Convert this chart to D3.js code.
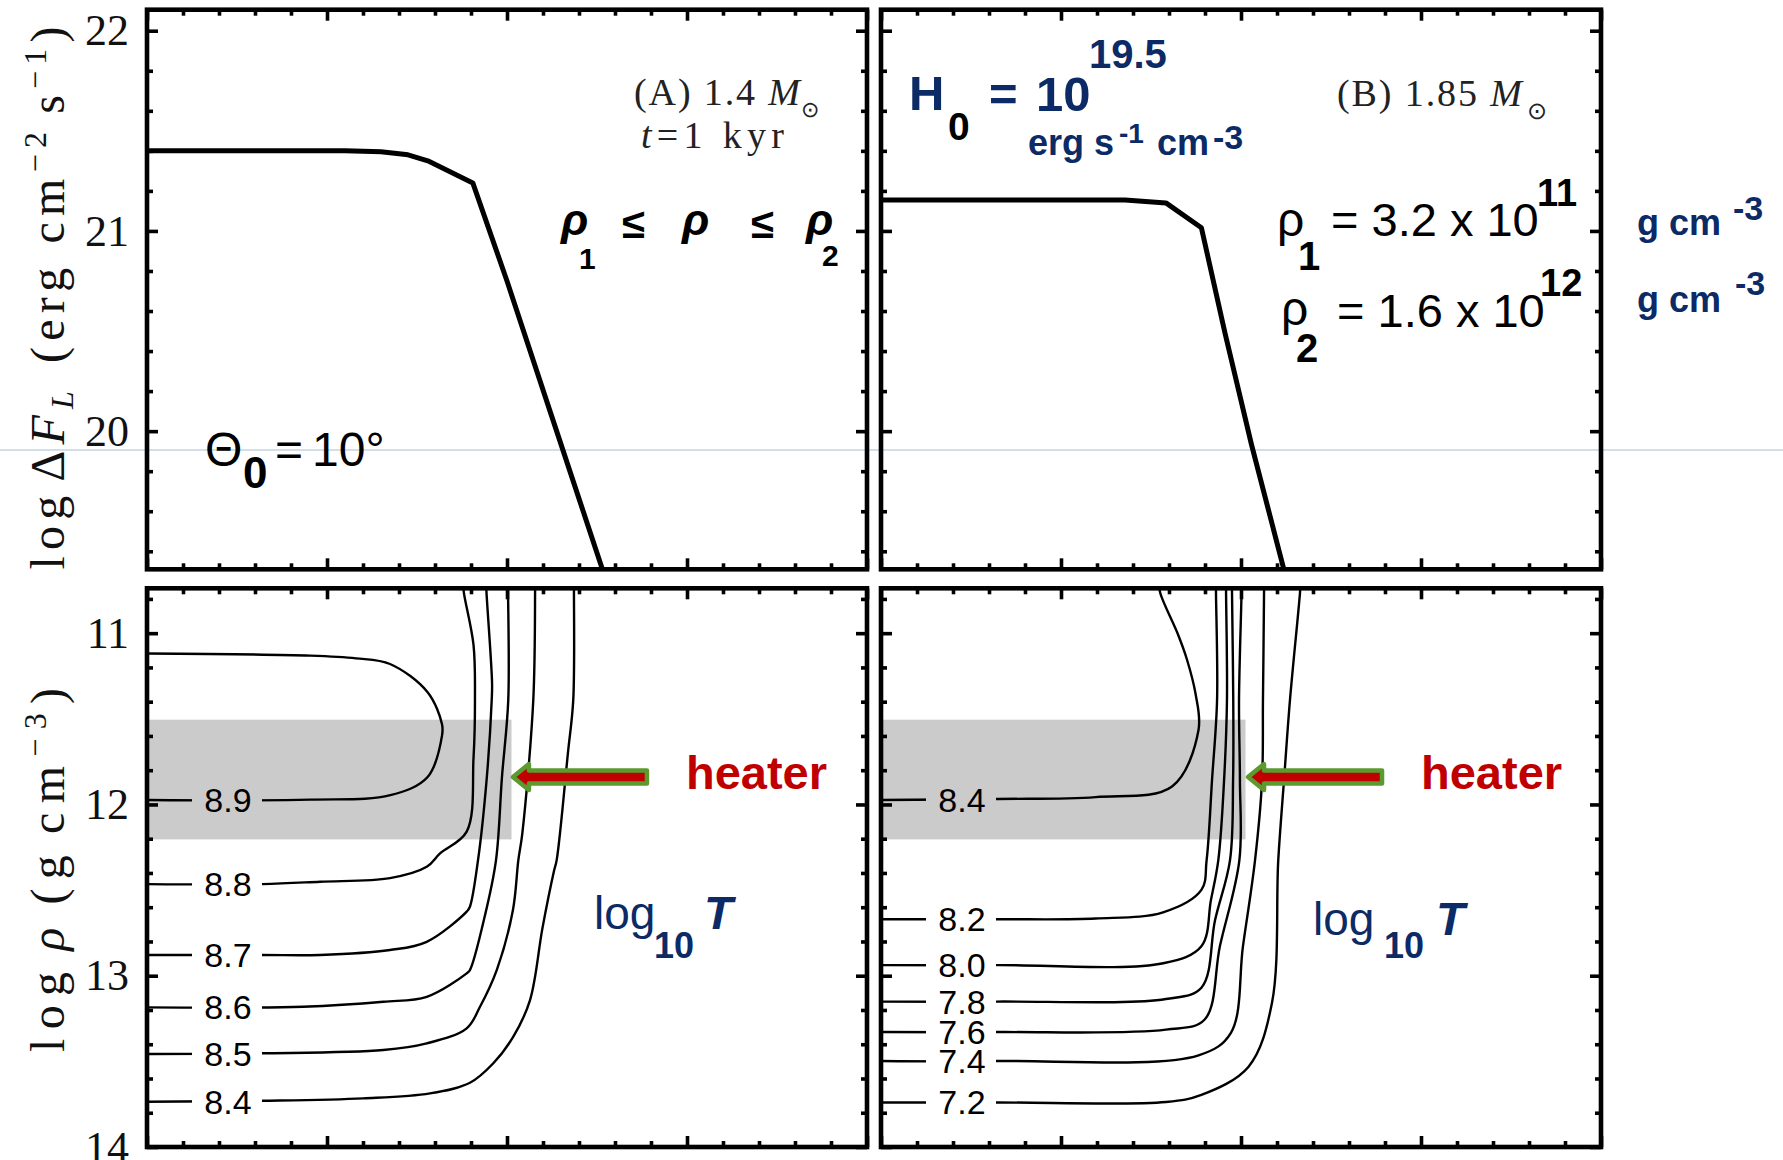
<!DOCTYPE html>
<html>
<head>
<meta charset="utf-8">
<script src="https://cdn.jsdelivr.net/npm/d3@7"></script>
<style>
  html, body { margin: 0; padding: 0; background: #fff; }
  svg { display: block; }
</style>
</head>
<body>
<svg id="fig" width="1783" height="1160"></svg>
<script>
// ---------------------------------------------------------------
// Data
// ---------------------------------------------------------------
// shared (unlabelled) horizontal coordinate, major ticks
const xTicksMajor = [0, 1, 2, 3, 4];
// tick labels of the two rows
const fluxTicks = [20, 21, 22];
const rhoTicks = [11, 12, 13, 14];

// log ΔF_L profiles, [x, log ΔF_L]
const fluxA = [[0, 21.40], [1.10, 21.40], [1.30, 21.395], [1.45, 21.38], [1.56, 21.35],
               [1.81, 21.24], [2.0, 20.75], [2.25, 20.07], [2.53, 19.31], [2.57, 19.20]];
const fluxB = [[0, 21.155], [1.356, 21.155], [1.583, 21.14], [1.78, 21.016], [1.911, 20.49],
               [2.058, 19.934], [2.238, 19.31], [2.27, 19.20]];

// log10 T contours, [x, log rho]; first point carries the label
const levelsA = ["8.9", "8.8", "8.7", "8.6", "8.5", "8.4"];
const contoursA = [
  [[0, 11.974], [0.906, 11.972], [1.352, 11.946], [1.559, 11.84], [1.639, 11.598], [1.639, 11.532],
   [1.559, 11.345], [1.35, 11.18], [1.161, 11.147], [0.906, 11.131], [0, 11.119]],
  [[0, 12.465], [0.639, 12.465], [0.961, 12.451], [1.35, 12.43], [1.554, 12.364], [1.628, 12.286],
   [1.776, 12.159], [1.814, 11.729], [1.822, 11.391], [1.814, 11.069], [1.76, 10.76], [1.756, 10.70]],
  [[0, 12.879], [0.639, 12.879], [0.961, 12.879], [1.35, 12.85], [1.554, 12.802], [1.776, 12.626],
   [1.794, 12.597], [1.839, 12.325], [1.888, 11.84], [1.915, 11.391], [1.917, 11.291], [1.886, 10.76], [1.884, 10.70]],
  [[0, 13.185], [0.867, 13.181], [1.313, 13.152], [1.554, 13.123], [1.776, 12.986], [1.794, 12.967],
   [1.878, 12.646], [1.939, 12.325], [1.972, 11.84], [2.007, 11.391], [2.006, 10.76], [2.006, 10.70]],
  [[0, 13.457], [0.639, 13.453], [1.313, 13.434], [1.554, 13.395], [1.776, 13.307], [1.85, 13.181],
   [1.943, 12.967], [2.033, 12.616], [2.063, 12.325], [2.085, 12.17], [2.146, 11.391], [2.156, 10.76], [2.156, 10.70]],
  [[0, 13.736], [0.639, 13.73], [1.202, 13.716], [1.572, 13.687], [1.794, 13.625], [1.924, 13.511],
   [2.035, 13.356], [2.128, 13.142], [2.197, 12.722], [2.261, 12.389], [2.276, 12.325], [2.339, 11.694],
   [2.368, 11.391], [2.372, 10.76], [2.372, 10.70]]
];

const levelsB = ["8.4", "8.2", "8.0", "7.8", "7.6", "7.4", "7.2"];
const contoursB = [
  [[0, 11.974], [0.644, 11.968], [1.192, 11.957], [1.617, 11.895], [1.764, 11.565], [1.748, 11.357],
   [1.698, 11.148], [1.649, 11.005], [1.551, 10.764], [1.544, 10.70]],
  [[0, 12.670], [0.644, 12.670], [1.192, 12.666], [1.567, 12.63], [1.78, 12.499], [1.809, 12.325],
   [1.839, 11.858], [1.867, 11.391], [1.861, 10.76], [1.861, 10.70]],
  [[0, 12.938], [0.644, 12.938], [1.568, 12.927], [1.78, 12.828], [1.833, 12.558], [1.874, 12.325],
   [1.906, 11.858], [1.922, 11.391], [1.917, 10.76], [1.917, 10.70]],
  [[0, 13.151], [0.644, 13.151], [1.583, 13.136], [1.78, 13.07], [1.856, 12.675], [1.939, 12.325],
   [1.956, 11.858], [1.957, 11.391], [1.95, 10.76], [1.95, 10.70]],
  [[0, 13.329], [0.644, 13.329], [1.583, 13.315], [1.797, 13.257], [1.883, 12.827], [1.991, 12.325],
   [1.994, 11.858], [1.989, 11.391], [2.003, 10.76], [2.003, 10.70]],
  [[0, 13.498], [0.644, 13.498], [1.764, 13.465], [1.944, 13.333], [2.011, 12.827], [2.078, 12.325],
   [2.117, 11.858], [2.122, 11.391], [2.128, 10.76], [2.128, 10.70]],
  [[0, 13.74], [0.644, 13.74], [1.583, 13.737], [1.78, 13.696], [2.042, 13.531], [2.172, 13.159],
   [2.207, 12.325], [2.239, 11.858], [2.272, 11.391], [2.328, 10.76], [2.331, 10.70]]
];

// heated shell rho1 <= rho <= rho2 (g cm^-3)
const rho1 = 3.2e11;
const rho2 = 1.6e12;
const heaterExtent = [0, 2.025];     // horizontal extent of the shaded shell
const heaterTipA = [2.033, 11.84];   // arrow tip, column A
const heaterTipB = [2.039, 11.84];   // arrow tip, column B

// ---------------------------------------------------------------
// Layout
// ---------------------------------------------------------------
const SANS = "'Liberation Sans', Arial, Helvetica, sans-serif";
const SERIF = "'Liberation Serif', 'Times New Roman', serif";
const NAVY = "#0b2a66";
const RED = "#c00000";

const svg = d3.select("#fig");
const defs = svg.append("defs");

const xLeft = d3.scaleLinear().domain([0, 4]).range([147, 867]);
const xRight = d3.scaleLinear().domain([0, 4]).range([881, 1601]);
const yTop = d3.scaleLinear().domain([19.31, 22.105]).range([569.3, 9.7]);
const yBot = d3.scaleLinear().domain([14, 10.738]).range([1147, 588.3]);

svg.append("rect").attr("width", 1783).attr("height", 1160).attr("fill", "#fff");

// faint guide rule across the sheet
svg.append("line").attr("x1", 0).attr("x2", 1783).attr("y1", 450).attr("y2", 450)
  .attr("stroke", "#c3d5e2").attr("stroke-width", 1.3);

function addClip(id, xs, ys) {
  const [x0, x1] = xs.range();
  const [y0, y1] = ys.range();
  defs.append("clipPath").attr("id", id).append("rect")
    .attr("x", x0).attr("y", Math.min(y0, y1))
    .attr("width", x1 - x0).attr("height", Math.abs(y1 - y0));
}

function ticksFor(domain, step, majors) {
  const lo = Math.ceil(domain[0] / step - 1e-9), hi = Math.floor(domain[1] / step + 1e-9);
  return d3.range(lo, hi + 1).map(i => +(i * step).toFixed(4))
    .filter(v => !majors.some(m => Math.abs(m - v) < 1e-6));
}

function frame(g, xs, ys, yMajor, showLabels) {
  const [x0, x1] = xs.range();
  const yr = ys.range();
  const yb = Math.max(...yr), yt = Math.min(...yr);
  const yDom = d3.extent(ys.domain());
  const xMinor = ticksFor([0, 4], 0.2, xTicksMajor);
  const yMinor = ticksFor(yDom, 0.2, yMajor);
  const style = sel => {
    sel.select(".domain").remove();
    sel.selectAll("line").attr("stroke", "#000").attr("stroke-width", 3.6);
  };
  const axes = [
    [d3.axisBottom(xs), `translate(0,${yb})`, xTicksMajor, xMinor],
    [d3.axisTop(xs), `translate(0,${yt})`, xTicksMajor, xMinor],
    [d3.axisRight(ys), `translate(${x1},0)`, yMajor, yMinor],
  ];
  axes.forEach(([ax, tr, maj, min]) => {
    g.append("g").attr("transform", tr)
      .call(ax.tickValues(maj).tickSize(-11).tickFormat(""))
      .call(style);
    g.append("g").attr("transform", tr)
      .call(ax.tickValues(min).tickSize(-6).tickFormat(""))
      .call(style);
  });
  const left = d3.axisLeft(ys).tickValues(yMajor).tickSize(-11).tickPadding(18)
    .tickFormat(showLabels ? d3.format("d") : "");
  g.append("g").attr("transform", `translate(${x0},0)`).call(left).call(style)
    .selectAll("text").attr("font-family", SERIF).attr("font-size", 44).attr("fill", "#111");
  g.append("g").attr("transform", `translate(${x0},0)`)
    .call(d3.axisLeft(ys).tickValues(yMinor).tickSize(-6).tickFormat("")).call(style);
  g.append("rect").attr("x", x0).attr("y", yt).attr("width", x1 - x0).attr("height", yb - yt)
    .attr("fill", "none").attr("stroke", "#000").attr("stroke-width", 4.6);
}

// ---------------------------------------------------------------
// Top row: log ΔF_L profiles
// ---------------------------------------------------------------
function fluxPanel(id, xs, data, showLabels) {
  addClip(id, xs, yTop);
  const g = svg.append("g");
  const line = d3.line().x(d => xs(d[0])).y(d => yTop(d[1])).curve(d3.curveLinear);
  g.append("path").datum(data).attr("clip-path", `url(#${id})`)
    .attr("d", line).attr("fill", "none").attr("stroke", "#000")
    .attr("stroke-width", 5).attr("stroke-linejoin", "round");
  frame(g, xs, yTop, fluxTicks, showLabels);
  return g;
}
fluxPanel("clipA", xLeft, fluxA, true);
fluxPanel("clipB", xRight, fluxB, false);

// ---------------------------------------------------------------
// Bottom row: log10 T contours in the (x, log rho) plane
// ---------------------------------------------------------------
function contourPanel(id, xs, contours, levels, tip) {
  addClip(id, xs, yBot);
  const g = svg.append("g");
  // heated shell
  g.append("rect")
    .attr("x", xs(heaterExtent[0]) + 2).attr("width", xs(heaterExtent[1]) - xs(heaterExtent[0]) - 2)
    .attr("y", yBot(Math.log10(rho1)))
    .attr("height", yBot(Math.log10(rho2)) - yBot(Math.log10(rho1)))
    .attr("fill", "#cbcbcb");

  const x0 = xs(0);
  // openings in the contour lines where the level labels sit
  const mask = defs.append("mask").attr("id", id + "-gaps").attr("maskUnits", "userSpaceOnUse");
  mask.append("rect").attr("x", 0).attr("y", 0).attr("width", 1783).attr("height", 1160).attr("fill", "#fff");
  contours.forEach(c => {
    mask.append("rect").attr("x", x0 + 45).attr("width", 70)
      .attr("y", yBot(c[0][1]) - 13).attr("height", 26).attr("fill", "#000");
  });

  const line = d3.line().x(d => xs(d[0])).y(d => yBot(d[1])).curve(d3.curveCatmullRom.alpha(0.5));
  const cg = g.append("g").attr("clip-path", `url(#${id})`).append("g").attr("mask", `url(#${id}-gaps)`);
  cg.selectAll("path").data(contours).join("path")
    .attr("d", line).attr("fill", "none").attr("stroke", "#000")
    .attr("stroke-width", 2.4).attr("stroke-linejoin", "round");

  g.selectAll("text.lvl").data(contours).join("text").attr("class", "lvl")
    .attr("x", x0 + 81).attr("y", c => yBot(c[0][1]) + 12)
    .attr("text-anchor", "middle").attr("font-family", SANS).attr("font-size", 34)
    .attr("fill", "#000").text((c, i) => levels[i]);

  frame(g, xs, yBot, rhoTicks, xs === xLeft);

  // heater arrow
  const tx = xs(tip[0]), ty = yBot(tip[1]);
  const arrow = `M${tx},${ty} L${tx + 16},${ty - 13} L${tx + 16},${ty - 6.5} L${tx + 134},${ty - 6.5}
                 L${tx + 134},${ty + 6.5} L${tx + 16},${ty + 6.5} L${tx + 16},${ty + 13} Z`;
  g.append("path").attr("d", arrow).attr("fill", RED).attr("stroke", "#5b9a2f")
    .attr("stroke-width", 4.5).attr("stroke-linejoin", "round");
  g.append("text").attr("x", tx + 173).attr("y", ty + 12)
    .attr("font-family", SANS).attr("font-weight", "bold").attr("font-size", 47)
    .attr("fill", RED).text("heater");
  return g;
}
contourPanel("clipC", xLeft, contoursA, levelsA, heaterTipA);
contourPanel("clipD", xRight, contoursB, levelsB, heaterTipB);

// ---------------------------------------------------------------
// Text helpers
// ---------------------------------------------------------------
function txt(x, y, s, o = {}) {
  return svg.append("text").attr("x", x).attr("y", y)
    .attr("font-family", o.family || SANS)
    .attr("font-size", o.size || 40)
    .attr("font-weight", o.weight || "normal")
    .attr("font-style", o.style || "normal")
    .attr("fill", o.fill || "#000")
    .text(s);
}

// Column A annotations
const tA = svg.append("text").attr("x", 634).attr("y", 105).attr("font-family", SERIF)
  .attr("font-size", 38).attr("fill", "#222").attr("textLength", 166).attr("lengthAdjust", "spacing");
tA.append("tspan").text("(A) 1.4 ");
tA.append("tspan").attr("font-style", "italic").text("M");
txt(801, 117, "⊙", { family: SERIF, size: 22, fill: "#222" });
const tT = svg.append("text").attr("x", 641).attr("y", 148).attr("font-family", SERIF)
  .attr("font-size", 38).attr("fill", "#222").attr("textLength", 143).attr("lengthAdjust", "spacing");
tT.append("tspan").attr("font-style", "italic").text("t");
tT.append("tspan").text("=1 kyr");

txt(561, 235, "ρ", { size: 45, weight: "bold", style: "italic" });
txt(579, 269, "1", { size: 30, weight: "bold" });
txt(622, 238, "≤", { size: 42, weight: "bold" });
txt(682, 235, "ρ", { size: 45, weight: "bold", style: "italic" });
txt(751, 238, "≤", { size: 42, weight: "bold" });
txt(806, 235, "ρ", { size: 45, weight: "bold", style: "italic" });
txt(822, 266, "2", { size: 30, weight: "bold" });

txt(205, 466, "Θ", { size: 48 });
txt(243, 488, "0", { size: 44, weight: "bold" });
txt(275, 466, "=", { size: 48 });
txt(312, 466, "10°", { size: 48 });

// Column B annotations
txt(909, 110, "H", { size: 49, weight: "bold", fill: NAVY });
txt(948, 140, "0", { size: 39, weight: "bold" });
txt(989, 111, "=", { size: 49, weight: "bold", fill: NAVY });
txt(1036, 111, "10", { size: 49, weight: "bold", fill: NAVY });
txt(1089, 68, "19.5", { size: 40, weight: "bold", fill: NAVY });
txt(1028, 155, "erg s", { size: 36, weight: "bold", fill: NAVY });
txt(1119, 143, "-1", { size: 28, weight: "bold", fill: NAVY });
txt(1157, 155, "cm", { size: 36, weight: "bold", fill: NAVY });
txt(1213, 149, "-3", { size: 34, weight: "bold", fill: NAVY });

const tB = svg.append("text").attr("x", 1337).attr("y", 106).attr("font-family", SERIF)
  .attr("font-size", 38).attr("fill", "#222").attr("textLength", 185).attr("lengthAdjust", "spacing");
tB.append("tspan").text("(B) 1.85 ");
tB.append("tspan").attr("font-style", "italic").text("M");
txt(1527, 119, "⊙", { family: SERIF, size: 24, fill: "#222" });

txt(1277, 236, "ρ", { size: 48 });
txt(1298, 270, "1", { size: 40, weight: "bold" });
txt(1331, 236, "= 3.2 x 10", { size: 47 });
txt(1537, 206, "11", { size: 38, weight: "bold" });
txt(1281, 325, "ρ", { size: 48 });
txt(1296, 362, "2", { size: 40, weight: "bold" });
txt(1337, 327, "= 1.6 x 10", { size: 47 });
txt(1540, 296, "12", { size: 38, weight: "bold" });

txt(1637, 235, "g cm", { size: 36, weight: "bold", fill: NAVY });
txt(1733, 220, "-3", { size: 34, weight: "bold", fill: NAVY });
txt(1637, 312, "g cm", { size: 36, weight: "bold", fill: NAVY });
txt(1735, 295, "-3", { size: 34, weight: "bold", fill: NAVY });

// log10 T tags
[[594, 929, 654, 958, 704], [1313, 935, 1384, 958, 1436]].forEach(([lx, ly, sx, sy, tx]) => {
  txt(lx, ly, "log", { size: 46, fill: NAVY });
  txt(sx, sy, "10", { size: 36, weight: "bold", fill: NAVY });
  txt(tx, ly, "T", { size: 47, weight: "bold", style: "italic", fill: NAVY });
});

// ---------------------------------------------------------------
// Axis titles
// ---------------------------------------------------------------
const yt1 = svg.append("text").attr("transform", "translate(64,298) rotate(-90)")
  .attr("text-anchor", "middle").attr("font-family", SERIF).attr("font-size", 48)
  .attr("fill", "#111").attr("textLength", 543).attr("lengthAdjust", "spacing");
yt1.append("tspan").text("log");
yt1.append("tspan").attr("dx", 8).text("Δ");
yt1.append("tspan").attr("font-style", "italic").text("F");
yt1.append("tspan").attr("font-style", "italic").attr("font-size", 32).attr("dy", 9).text("L");
yt1.append("tspan").attr("dy", -9).attr("dx", 22).text("(erg cm");
yt1.append("tspan").attr("font-size", 32).attr("dy", -18).text("−2");
yt1.append("tspan").attr("dy", 18).attr("dx", 12).text("s");
yt1.append("tspan").attr("font-size", 32).attr("dy", -18).text("−1");
yt1.append("tspan").attr("dy", 18).text(")");

const yt2 = svg.append("text").attr("transform", "translate(64,870) rotate(-90)")
  .attr("text-anchor", "middle").attr("font-family", SERIF).attr("font-size", 48)
  .attr("fill", "#111").attr("textLength", 364).attr("lengthAdjust", "spacing");
yt2.append("tspan").text("log");
yt2.append("tspan").attr("dx", 12).attr("font-style", "italic").text("ρ");
yt2.append("tspan").attr("dx", 14).text("(g");
yt2.append("tspan").attr("dx", 12).text("cm");
yt2.append("tspan").attr("font-size", 32).attr("dy", -18).text("−3");
yt2.append("tspan").attr("dy", 18).text(")");
</script>
</body>
</html>
